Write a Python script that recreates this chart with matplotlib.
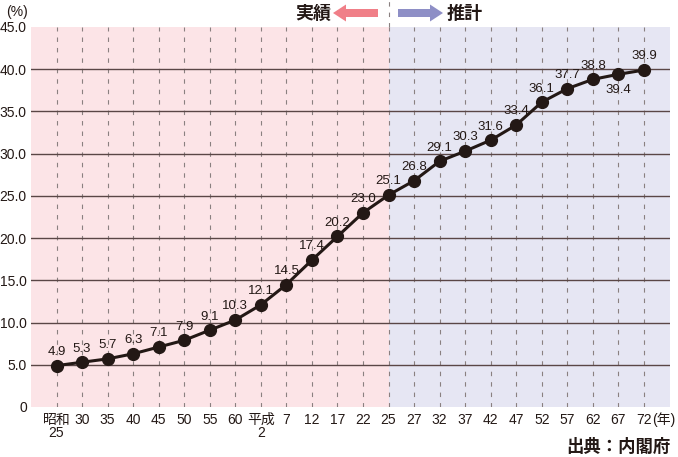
import matplotlib
matplotlib.use("Agg")
import matplotlib.pyplot as plt
import matplotlib.patches as mpatches

plt.rcParams['font.family'] = ['Liberation Sans', 'Noto Sans CJK JP', 'DejaVu Sans']

categories = ["昭和\n25", "30", "35", "40", "45", "50", "55", "60", "平成\n2", "7", "12", "17",
              "22", "25", "27", "32", "37", "42", "47", "52", "57", "62", "67", "72"]
values = [4.9, 5.3, 5.7, 6.3, 7.1, 7.9, 9.1, 10.3, 12.1, 14.5, 17.4, 20.2,
          23.0, 25.1, 26.8, 29.1, 30.3, 31.6, 33.4, 36.1, 37.7, 38.8, 39.4, 39.9]
yticks = [0, 5, 10, 15, 20, 25, 30, 35, 40, 45]
ytick_labels = ["0", "5.0", "10.0", "15.0", "20.0", "25.0", "30.0", "35.0", "40.0", "45.0"]
split_index = 13
below_labels = {22}

W, H = 678, 457
fig = plt.figure(figsize=(W / 100, H / 100), dpi=100)
ax = fig.add_axes([31 / W, (H - 407) / H, (670 - 31) / W, (407 - 27) / H])

n = len(categories)
xs = list(range(n))
ax.set_xlim(-1.0, n - 1 + 1.02)
ax.set_ylim(0, 45)

ax.axvspan(-1.0, split_index, color='#fce4e7', zorder=0, lw=0)
ax.axvspan(split_index, n - 1 + 1.02, color='#e6e6f3', zorder=0, lw=0)

for x in xs:
    ax.plot([x, x], [0, 45], color='#8a8080', lw=0.8, dashes=(4, 5.4), zorder=1)
ax.plot([split_index, split_index], [45, 48.3], color='#8a8080', lw=0.8,
        dashes=(4, 5.4), clip_on=False, zorder=1)
for y in yticks[1:-1]:
    ax.axhline(y, color='#5a4646', lw=1.0, zorder=1)

ax.plot(xs, values, color='#231815', lw=2.2, marker='o', markersize=8.5, zorder=3)

for x, v in zip(xs, values):
    if x in below_labels:
        ax.annotate(f"{v:.1f}", (x, v), xytext=(0, -7), textcoords='offset points',
                    ha='center', va='top', fontsize=9.5, color='#231815', zorder=4)
    else:
        ax.annotate(f"{v:.1f}", (x, v), xytext=(0, 5.5), textcoords='offset points',
                    ha='center', va='bottom', fontsize=9.5, color='#231815', zorder=4)

ax.set_xticks(xs)
ax.set_xticklabels(categories, fontsize=10, linespacing=0.95)
ax.set_yticks(yticks)
ax.set_yticklabels(ytick_labels, fontsize=10)
ax.tick_params(length=0, pad=4, colors='#231815')
ax.tick_params(axis='y', pad=3)
for s in ax.spines.values():
    s.set_visible(False)

ax.annotate("(年)", xy=(n - 1, 0), xytext=(5.6, -4), textcoords='offset points',
            ha='left', va='top', fontsize=10, color='#231815')

fig.text(6 / W, 1 - 12 / H, "(%)", fontsize=10, ha='left', va='center', color='#231815')

# header
fig.add_artist(mpatches.FancyArrow(378 / 100, (H - 13) / 100, -32 / 100, 0,
                                   width=8 / 100, head_width=17 / 100, head_length=13 / 100,
                                   length_includes_head=False, color='#f07f88', lw=0,
                                   transform=fig.dpi_scale_trans))
fig.add_artist(mpatches.FancyArrow(398 / 100, (H - 13) / 100, 32 / 100, 0,
                                   width=8 / 100, head_width=17 / 100, head_length=13 / 100,
                                   length_includes_head=False, color='#8e8fc6', lw=0,
                                   transform=fig.dpi_scale_trans))
fig.text(331 / W, 1 - 14 / H, "実績", fontsize=13, fontweight='bold', ha='right',
         va='center', color='#231815')
fig.text(447 / W, 1 - 14 / H, "推計", fontsize=13, fontweight='bold', ha='left',
         va='center', color='#231815')

fig.text(671 / W, 1 - 446 / H, "出典：内閣府", fontsize=12.5, fontweight='bold',
         ha='right', va='center', color='#231815')

fig.savefig("out.png", dpi=100)
